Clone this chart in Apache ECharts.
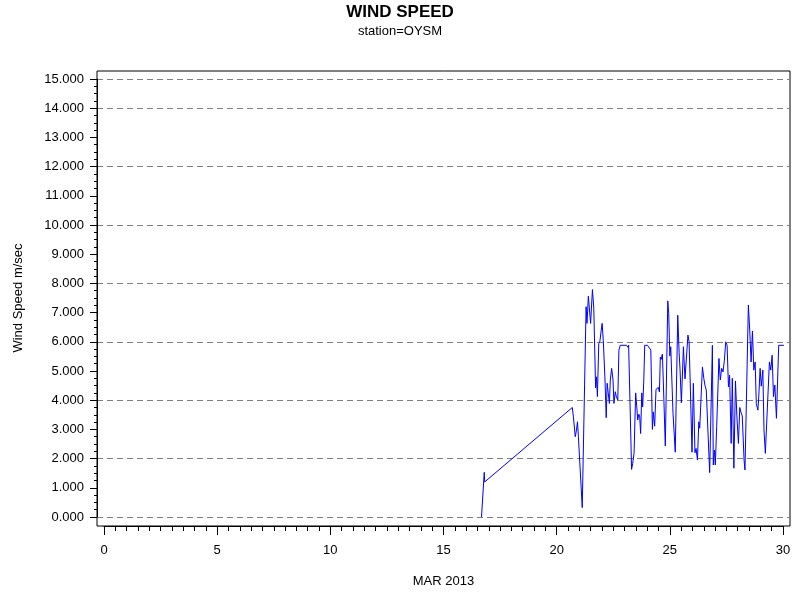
<!DOCTYPE html>
<html>
<head>
<meta charset="utf-8">
<script src="https://cdn.jsdelivr.net/npm/echarts@6/dist/echarts.min.js"></script>
<style>html,body{margin:0;padding:0;background:#fff}#c{width:800px;height:600px}</style>
</head>
<body>
<div id="c"></div>
<script>
var titleText = 'WIND SPEED';
var subText = 'station=OYSM';
var xName = 'MAR 2013';
var yName = 'Wind Speed m/sec';

// day of month (fractional) and wind speed (m/s)
var days = [16.68,16.76,16.80,16.82,20.69,20.74,20.78,20.82,20.87,20.92,20.96,21.13,21.30,21.34,21.40,21.44,21.50,21.58,21.64,21.72,21.76,21.80,21.86,21.91,21.97,22.01,22.06,22.13,22.19,22.23,22.28,22.33,22.37,22.43,22.49,22.53,22.59,22.63,22.70,22.75,22.81,23.09,23.15,23.18,23.31,23.36,23.42,23.49,23.54,23.58,23.63,23.67,23.71,23.76,23.80,23.85,23.89,23.95,24.01,24.09,24.16,24.23,24.27,24.33,24.39,24.45,24.49,24.54,24.58,24.62,24.67,24.71,24.80,24.91,24.95,25.00,25.04,25.14,25.24,25.35,25.41,25.45,25.51,25.60,25.67,25.73,25.80,25.85,25.89,25.98,26.04,26.11,26.16,26.22,26.28,26.32,26.44,26.50,26.56,26.61,26.70,26.76,26.88,26.92,26.97,27.01,27.07,27.17,27.23,27.29,27.35,27.41,27.47,27.53,27.59,27.64,27.71,27.76,27.83,27.90,27.96,28.03,28.09,28.15,28.20,28.28,28.32,28.47,28.53,28.59,28.65,28.71,28.77,28.82,28.89,28.93,28.99,29.04,29.11,29.16,29.22,29.27,29.40,29.46,29.52,29.58,29.64,29.71,29.81,30.04];
var speeds = [0,0,1.53,1.2,3.75,3.43,3.38,2.75,2.95,3.26,2.75,0.32,7.2,6.63,7.56,7.56,6.63,7.79,7.15,4.42,4.8,4.12,5.94,6.02,6.4,6.63,6.04,4.8,3.4,4.58,4.63,3.89,4.69,5.09,4.69,3.89,4.29,4.14,4.0,5.72,5.88,5.88,5.81,5.88,1.63,1.84,2.18,4.25,3.77,3.32,3.52,3.43,2.86,4.25,3.77,4.69,5.88,5.83,5.88,5.88,5.72,3.0,3.6,3.11,4.37,4.35,4.44,4.28,5.47,5.40,5.58,4.69,2.43,7.40,6.97,5.51,5.83,3.55,2.22,6.91,5.63,5.06,3.91,5.83,4.73,4.78,6.23,6.0,4.92,2.22,4.58,2.2,2.35,1.95,3.26,3.04,5.14,4.75,4.48,4.35,2.64,1.52,5.88,1.78,2.29,1.78,3.09,5.43,4.69,5.09,4.97,5.37,6.0,5.88,4.46,4.86,2.52,4.75,1.67,4.66,3.49,2.52,3.75,3.57,3.46,1.95,1.61,7.26,6.4,5.31,6.37,5.03,5.31,3.89,3.66,4.14,5.09,4.48,5.03,2.98,2.18,2.12,5.31,5.03,5.54,4.12,4.52,3.38,5.88,5.88];

var font = 'Liberation Sans';
var chart = echarts.init(document.getElementById('c'), null, {renderer: 'canvas'});
var hidden = {show: false};
var black = {color: '#000', width: 1};
chart.setOption({
  animation: false,
  backgroundColor: '#fff',
  title: {
    text: titleText, subtext: subText, left: 'center', top: -1, itemGap: 4,
    textStyle: {fontFamily: font, fontSize: 17, fontWeight: 'bold', color: '#000'},
    subtextStyle: {fontFamily: font, fontSize: 13, color: '#000'}
  },
  grid: [
    {left: 104, right: 17, top: 79, bottom: 83},
    {left: 97, right: 10, top: 71, bottom: 74, show: true, borderColor: '#000', borderWidth: 1, backgroundColor: 'transparent'},
    {left: 97, right: 10, top: 79, bottom: 83},
    {left: 104, right: 17, top: 79, bottom: 74}
  ],
  xAxis: [
    {gridIndex: 0, type: 'value', min: 0, max: 30, show: false},
    {gridIndex: 1, type: 'value', min: 0, max: 1, show: false},
    {gridIndex: 2, type: 'value', min: 0, max: 1, show: false},
    {
      gridIndex: 3, type: 'value', min: 0, max: 30, interval: 5, position: 'bottom',
      axisLine: {show: true, lineStyle: black},
      axisTick: {show: true, inside: false, length: 9, lineStyle: black},
      minorTick: {show: true, splitNumber: 10, length: 5, lineStyle: black},
      splitLine: hidden, minorSplitLine: hidden,
      axisLabel: {margin: 18, fontFamily: font, fontSize: 13, color: '#000'},
      name: xName, nameLocation: 'middle', nameGap: 49,
      nameTextStyle: {fontFamily: font, fontSize: 13, color: '#000'}
    }
  ],
  yAxis: [
    {gridIndex: 0, type: 'value', min: 0, max: 15, show: false},
    {gridIndex: 1, type: 'value', min: 0, max: 1, show: false},
    {
      gridIndex: 2, type: 'value', min: 0, max: 15, interval: 1, position: 'left',
      axisLine: {show: true, lineStyle: black},
      axisTick: {show: true, inside: false, length: 7, lineStyle: black},
      minorTick: {show: true, splitNumber: 4, length: 3, lineStyle: black},
      splitLine: hidden, minorSplitLine: hidden,
      axisLabel: {margin: 13, fontFamily: font, fontSize: 13, color: '#000', formatter: function (v) { return v.toFixed(3); }},
      name: yName, nameLocation: 'middle', nameGap: 72,
      nameTextStyle: {fontFamily: font, fontSize: 13, color: '#000'}
    },
    {
      gridIndex: 2, type: 'value', min: 0, max: 15, interval: 2, position: 'left',
      axisLine: hidden, axisTick: hidden, axisLabel: hidden,
      splitLine: {show: true, lineStyle: {color: '#7f7f7f', width: 1, type: [6, 4]}}
    },
    {gridIndex: 3, type: 'value', min: 0, max: 1, show: false}
  ],
  series: [{
    type: 'line', xAxisIndex: 0, yAxisIndex: 0,
    data: days.map(function (d, i) { return [d, speeds[i]]; }),
    showSymbol: false, symbol: 'none', clip: false,
    lineStyle: {color: '#0000ff', width: 1},
    z: 5
  }]
});
</script>
</body>
</html>
